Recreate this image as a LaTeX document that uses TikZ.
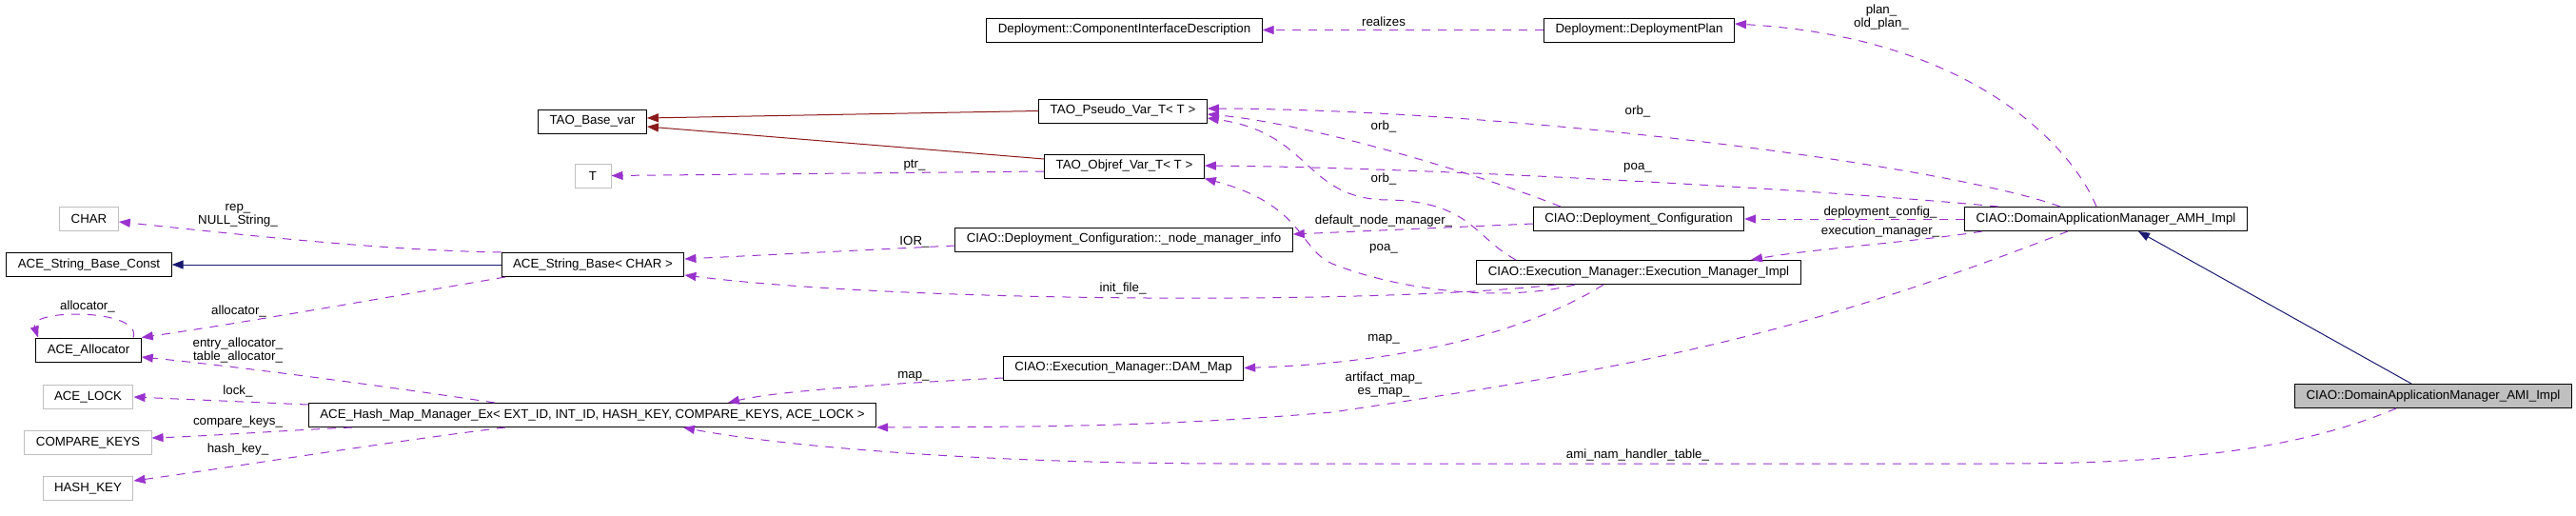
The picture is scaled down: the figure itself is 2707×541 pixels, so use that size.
\documentclass[tikz,border=0pt]{standalone}
\usepackage{fontspec}
\setmainfont{Liberation Sans}
\usepackage{xcolor}
\usepackage{tikz}
\usetikzlibrary{arrows.meta}
\definecolor{usepurple}{HTML}{9A32CD}
\definecolor{firebrick}{HTML}{8B1A1A}
\definecolor{midnight}{HTML}{191970}
\definecolor{undocgray}{HTML}{BFBFBF}

\begin{document}
\begin{tikzpicture}[x=1pt, y=-1pt, line width=1pt, font=\fontsize{13.3}{14}\selectfont, >={Triangle[length=12pt,width=9pt]}, cls/.style = {draw, rectangle, minimum height=25pt, inner xsep=12pt, inner ysep=0pt}, undoc/.style = {cls, draw=undocgray}, focus/.style = {cls, fill=undocgray}, usage/.style = {->, usepurple, dash pattern=on 9pt off 8pt}, pub/.style = {->, midnight}, priv/.style = {->, firebrick}, lbl/.style = {inner sep=0pt, align=center}]
\useasboundingbox (0,0) rectangle (2707,541);
\node[cls] (cid) at (1181.5,31.5) {Deployment::ComponentInterfaceDescription};
\node[cls] (plan) at (1722.5,31.5) {Deployment::DeploymentPlan};
\node[cls] (basevar) at (622.5,127.5) {TAO\_Base\_var};
\node[cls] (pseudo) at (1180,116.5) {TAO\_Pseudo\_Var\_T< T >};
\node[cls] (objref) at (1181.5,174.5) {TAO\_Objref\_Var\_T< T >};
\node[undoc, minimum width=38pt] (t) at (623,184.5) {T};
\node[undoc] (char) at (93.5,230) {CHAR};
\node[cls] (strconst) at (93.5,278) {ACE\_String\_Base\_Const};
\node[cls] (strbase) at (623,278) {ACE\_String\_Base< CHAR >};
\node[cls] (alloc) at (93,367.5) {ACE\_Allocator};
\node[undoc] (lock) at (92.5,417) {ACE\_LOCK};
\node[undoc] (cmpkeys) at (92.5,465) {COMPARE\_KEYS};
\node[undoc] (hashkey) at (92.5,513) {HASH\_KEY};
\node[cls] (hashmap) at (622.5,436) {ACE\_Hash\_Map\_Manager\_Ex< EXT\_ID, INT\_ID, HASH\_KEY, COMPARE\_KEYS, ACE\_LOCK >};
\node[cls] (nmi) at (1181,251.5) {CIAO::Deployment\_Configuration::\_node\_manager\_info};
\node[cls] (dammap) at (1180.5,386.5) {CIAO::Execution\_Manager::DAM\_Map};
\node[cls] (depconf) at (1722,230) {CIAO::Deployment\_Configuration};
\node[cls] (execimpl) at (1722,286) {CIAO::Execution\_Manager::Execution\_Manager\_Impl};
\node[cls] (amh) at (2213,230) {CIAO::DomainApplicationManager\_AMH\_Impl};
\node[focus] (ami) at (2557,416) {CIAO::DomainApplicationManager\_AMI\_Impl};

\node[lbl] (l-realizes) at (1454,23) {realizes};
\node[lbl] (l-plan) at (1977,18) {plan\_\\old\_plan\_};
\node[lbl] (l-orbamh) at (1721,117) {orb\_};
\node[lbl] (l-poaamh) at (1721,176) {poa\_};
\node[lbl] (l-orbconf) at (1454,133) {orb\_};
\node[lbl] (l-orbexec) at (1454,188) {orb\_};
\node[lbl] (l-defnm) at (1454,232) {default\_node\_manager\_};
\node[lbl] (l-poaexec) at (1454,261) {poa\_};
\node[lbl] (l-depconf) at (1976,223) {deployment\_config\_};
\node[lbl] (l-execmgr) at (1976,243) {execution\_manager\_};
\node[lbl] (l-ptr) at (961,174) {ptr\_};
\node[lbl] (l-ior) at (961,254) {IOR\_};
\node[lbl] (l-init) at (1180,303) {init\_file\_};
\node[lbl] (l-mapexec) at (1454,356) {map\_};
\node[lbl] (l-mapdam) at (960,395) {map\_};
\node[lbl] (l-artifact) at (1454,404.5) {artifact\_map\_\\es\_map\_};
\node[lbl] (l-ami) at (1721,478) {ami\_nam\_handler\_table\_};
\node[lbl] (l-rep) at (250,226) {rep\_\\NULL\_String\_};
\node[lbl] (l-allocself) at (92,322) {allocator\_};
\node[lbl] (l-alloc) at (251,327) {allocator\_};
\node[lbl] (l-entry) at (250,367.5) {entry\_allocator\_\\table\_allocator\_};
\node[lbl] (l-lock) at (250,411) {lock\_};
\node[lbl] (l-cmp) at (250,443) {compare\_keys\_};
\node[lbl] (l-hashkey) at (250,472) {hash\_key\_};

\draw[usage] (plan.west) -- (cid.east);
\draw[usage] (2203,0 |- amh.north) .. controls (2180,160) and (2080,40) .. (plan.east |- 0,25);
\draw[priv] (pseudo.west) -- (basevar.east |- 0,124);
\draw[priv] (objref.west |- 0,167) -- (basevar.east |- 0,133);
\draw[usage] (objref.west |- 0,180) -- (t.east);
\draw[usage] (2165,0 |- amh.north) .. controls (2050,175) and (1600,115) .. (pseudo.east |- 0,114);
\draw[usage] (2100,0 |- amh.north) .. controls (1900,198) and (1500,176) .. (objref.east |- 0,174);
\draw[usage] (1640,0 |- depconf.north) .. controls (1560,185) and (1380,130) .. (pseudo.east |- 0,120);
\draw[usage] (1593,0 |- execimpl.north) .. controls (1550,250) and (1545,212) .. (1460,210) .. controls (1370,210) and (1380,140) .. (pseudo.east |- 0,124);
\draw[usage] (amh.west) -- (depconf.east);
\draw[usage] (2083,0 |- amh.south) .. controls (2030,252) and (1900,262) .. (1840,0 |- execimpl.north);
\draw[usage] (1685,0 |- execimpl.south) .. controls (1620,340) and (1500,380) .. (dammap.east);
\draw[usage] (2173,0 |- amh.south) .. controls (1873,360) and (1700,388) .. (1400,433) .. controls (1200,450) and (1050,448) .. (hashmap.south east);
\draw[usage] (2518,0 |- ami.south) .. controls (2420,470) and (2300,487) .. (2100,487) -- (1300,487) .. controls (1000,487) and (800,465) .. (718,0 |- hashmap.south);
\draw[pub] (2534,0 |- ami.north) -- (2247,0 |- amh.south);
\draw[usage] (depconf.west |- 0,235) -- (nmi.east |- 0,246);
\draw[usage] (nmi.west |- 0,258) -- (strbase.east |- 0,272);
\draw[usage] (1635,0 |- execimpl.south) .. controls (1450,320) and (950,318) .. (strbase.east |- 0,289);
\draw[usage] (1655,0 |- execimpl.south) .. controls (1580,318) and (1470,305) .. (1400,277) .. controls (1365,262) and (1370,215) .. (objref.south east);
\draw[usage] (dammap.west |- 0,397) .. controls (950,402) and (820,410) .. (765,0 |- hashmap.north);
\draw[usage] (520,0 |- hashmap.north) .. controls (400,405) and (250,385) .. (alloc.east |- 0,375);
\draw[usage] (hashmap.west |- 0,425) -- (lock.east);
\draw[usage] (370,0 |- hashmap.south) .. controls (300,452) and (220,458) .. (cmpkeys.east |- 0,460);
\draw[usage] (531,0 |- hashmap.south) .. controls (400,465) and (250,490) .. (hashkey.east |- 0,505);
\draw[usage] (531,0 |- strbase.south) .. controls (420,310) and (250,340) .. (alloc.north east);
\draw[usage] (140,0 |- alloc.north) .. controls (150,324) and (30,324) .. (40,0 |- alloc.north);
\draw[usage] (strbase.north west) .. controls (400,263) and (250,246) .. (char.east |- 0,233);
\draw[pub] (strbase.west) -- (strconst.east);
\end{tikzpicture}
\end{document}
